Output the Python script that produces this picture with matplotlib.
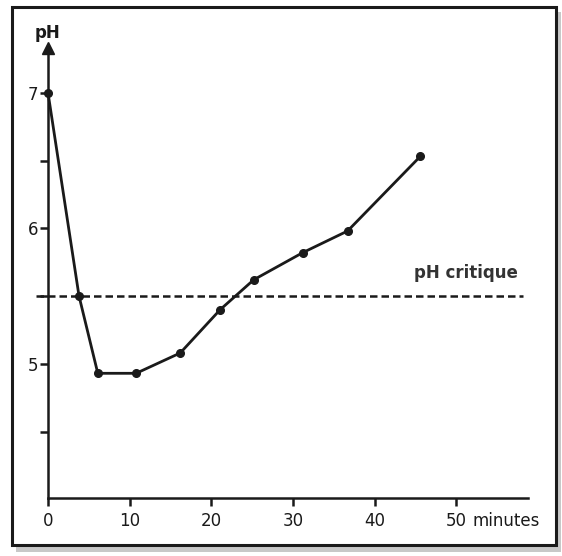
import matplotlib.pyplot as plt
from matplotlib.patches import Rectangle

plt.rcParams['font.family'] = ['Liberation Sans Narrow', 'DejaVu Sans']

# data
minutes = [0, 3.8, 6.1, 10.8, 16.2, 21.1, 25.2, 31.2, 36.7, 45.6]
ph = [7.0, 5.5, 4.93, 4.93, 5.08, 5.4, 5.62, 5.82, 5.98, 6.53]
ph_critique = 5.5
xticks = [0, 10, 20, 30, 40, 50]
xticklabels = ['0', '10', '20', '30', '40', '50']
yticks = [4.5, 5, 5.5, 6, 6.5, 7]
yticklabels = ['', '5', '', '6', '', '7']

fig = plt.figure(figsize=(5.62, 5.56), dpi=100)

# frame with shadow (behind the axes)
fig.patches.append(Rectangle((0.028, 0.008), 0.97, 0.97, transform=fig.transFigure,
                             facecolor='#c8c8c8', edgecolor='none', zorder=-3))
fig.patches.append(Rectangle((0.022, 0.02), 0.968, 0.967, transform=fig.transFigure,
                             facecolor='white', edgecolor='#1a1a1a', linewidth=2.2, zorder=-2))

ax = fig.add_axes([48 / 562, 1 - 498 / 556, 480 / 562, 450 / 556])
ax.set_facecolor('none')
ax.set_xlim(0, 58.8)
ax.set_ylim(4.01, 7.33)

for s in ['top', 'right']:
    ax.spines[s].set_visible(False)
for s in ['left', 'bottom']:
    ax.spines[s].set_linewidth(1.8)
    ax.spines[s].set_color('#1a1a1a')

# arrow head on the y axis
ax.plot(0, 1, '^', color='#1a1a1a', markersize=8, transform=ax.transAxes, clip_on=False)

ax.plot(minutes, ph, '-o', color='#1a1a1a', linewidth=2.0, markersize=5.5, clip_on=False, zorder=3)
ax.plot([-1.5, 58.2], [ph_critique, ph_critique], '--', color='#1a1a1a',
        linewidth=1.8, dashes=(3, 1.6), clip_on=False)
ax.text(57.5, ph_critique + 0.1, 'pH critique', ha='right', va='bottom',
        fontsize=12, fontweight='bold', color='#333333')

ax.set_xticks(xticks)
ax.set_xticklabels(xticklabels)
ax.set_yticks(yticks)
ax.set_yticklabels(yticklabels)
ax.tick_params(axis='both', labelsize=12, colors='#1a1a1a', width=1.8, length=6, pad=4)
ax.tick_params(axis='y', pad=1)

ax.annotate('minutes', xy=(52.0, 0), xycoords=('data', 'axes fraction'),
            xytext=(0, -10), textcoords='offset points', ha='left', va='top',
            fontsize=12, color='#1a1a1a')
ax.text(0, 7.44, 'pH', ha='center', va='center', fontsize=12, fontweight='bold', color='#1a1a1a')

plt.savefig('out.png', dpi=100)
